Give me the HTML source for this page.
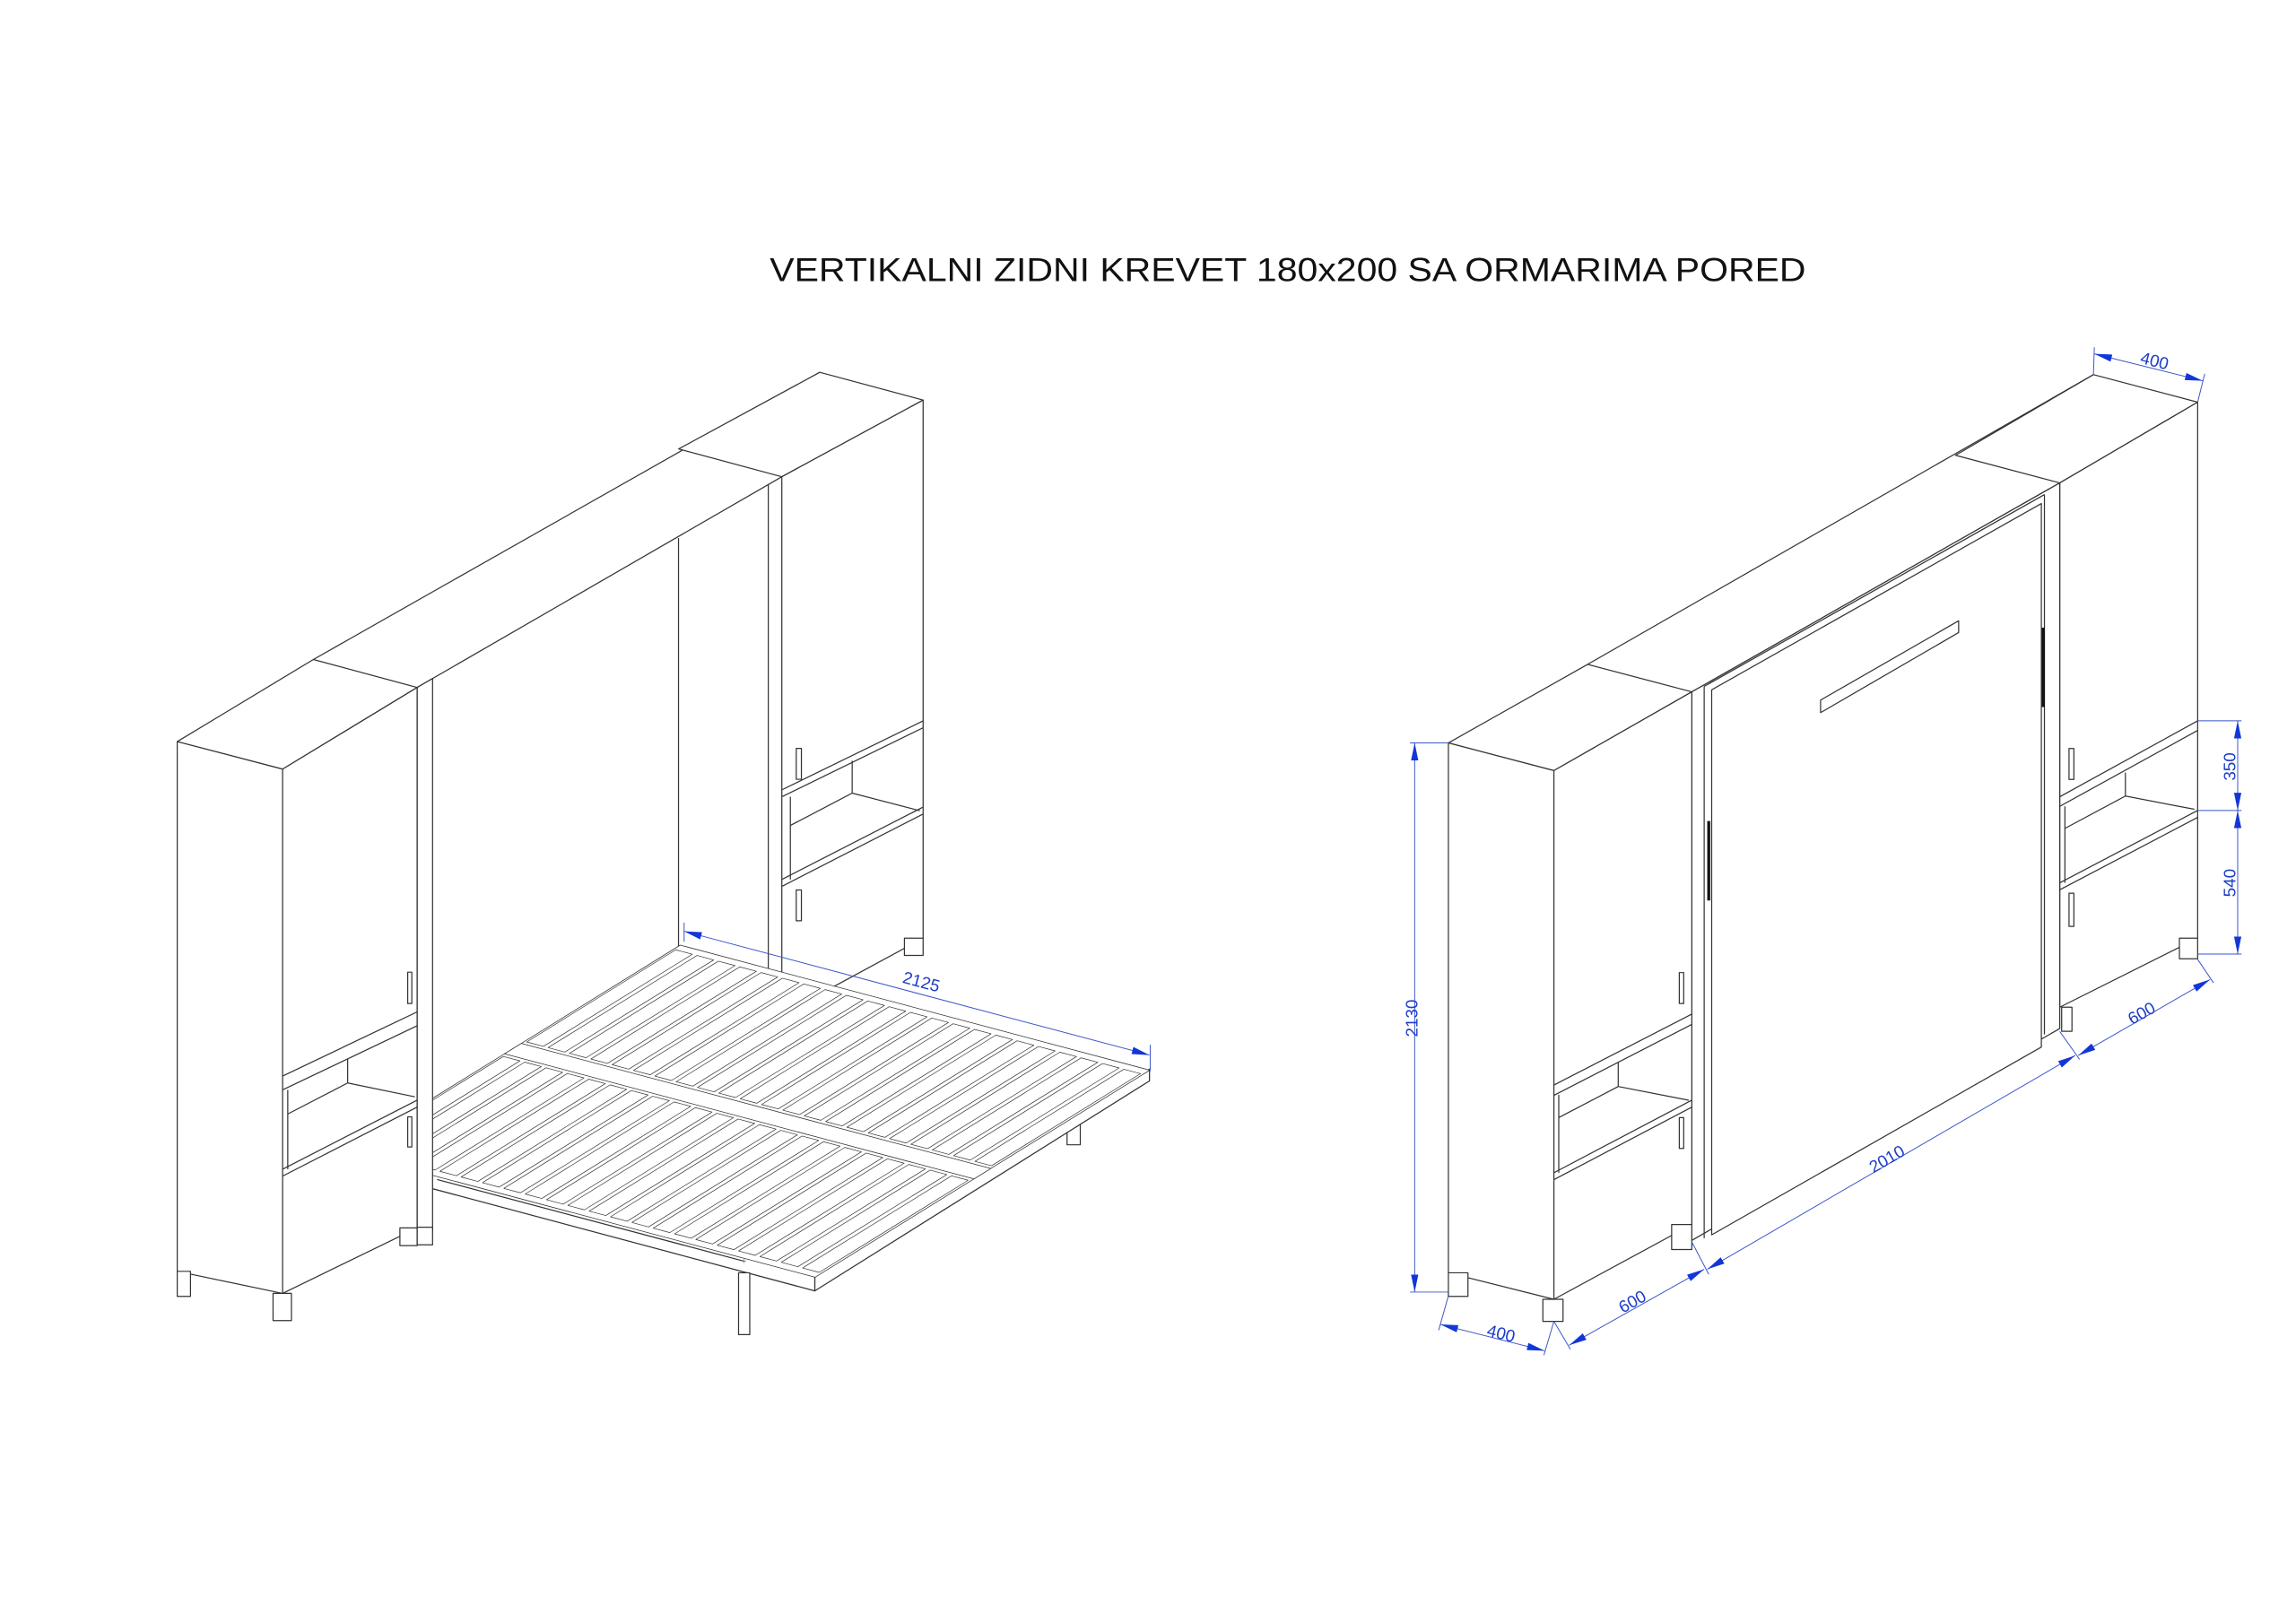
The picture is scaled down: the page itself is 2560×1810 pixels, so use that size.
<!DOCTYPE html>
<html><head><meta charset="utf-8"><style>
html,body{margin:0;padding:0;background:#fff;}
svg{display:block;}
</style></head><body>
<svg width="2560" height="1810" viewBox="0 0 1560 1103" xmlns="http://www.w3.org/2000/svg">
<defs>
<marker id="ar" viewBox="0 0 12 5" refX="12" refY="2.5" markerWidth="12" markerHeight="5" markerUnits="userSpaceOnUse" orient="auto-start-reverse">
<path d="M0,0 L12,2.5 L0,5 z" fill="#1336d8"/>
</marker>
<rect id="sl" x="1" y="2" width="7.8" height="44.5" fill="#fff" stroke="#333" stroke-width="0.7" vector-effect="non-scaling-stroke"/>
<rect id="sl2" x="1" y="53.5" width="7.8" height="44.5" fill="#fff" stroke="#333" stroke-width="0.7" vector-effect="non-scaling-stroke"/>
</defs>
<rect width="1560" height="1103" fill="#fff"/>
<text x="875" y="191" text-anchor="middle" font-family="Liberation Sans, sans-serif" font-size="22.5" fill="#111" textLength="704" lengthAdjust="spacingAndGlyphs">VERTIKALNI ZIDNI KREVET 180x200 SA ORMARIMA PORED</text>

<g fill="#fff" stroke="#333" stroke-width="0.75" stroke-linejoin="round">
<!-- ============ LEFT DRAWING ============ -->
<line x1="212.9" y1="448.2" x2="557" y2="253"/>
<line x1="283.4" y1="467.2" x2="531.2" y2="324"/>
<polygon points="461.1,305.1 557,253 627.2,271.9 531.2,324"/>
<line x1="461" y1="365.6" x2="461" y2="645"/>
<line x1="522" y1="329" x2="522" y2="690"/>
<polygon points="531.2,324 627.2,271.9 627.2,637.6 531.2,689.6"/>
<line x1="531.2" y1="536.8" x2="627.2" y2="489.9"/>
<line x1="531.2" y1="541.5" x2="627.2" y2="494.6"/>
<line x1="537" y1="541.5" x2="537" y2="597.7"/>
<line x1="579" y1="517" x2="579" y2="539"/>
<line x1="537" y1="561" x2="579" y2="539"/>
<line x1="579" y1="539" x2="625" y2="551"/>
<line x1="531.2" y1="597.7" x2="627.2" y2="548.5"/>
<line x1="531.2" y1="602.4" x2="627.2" y2="553.2"/>
<rect x="541" y="508.6" width="3.5" height="21"/>
<rect x="541" y="604.8" width="3.5" height="21"/>
<rect x="614.5" y="637.6" width="12.7" height="11.7"/>
<rect x="725" y="760" width="9" height="18"/>
<polygon points="781,726.6 553.6,867.3 553.6,877.3 781,734.6"/>
<polygon points="234.6,782 553.6,867.3 553.6,877.3 234.6,792"/>
<g transform="matrix(1.45,0.3864,-2.274,1.407,462.2,642.3)">
<rect x="0" y="0" width="220" height="100" fill="#fff" stroke="#333" stroke-width="0.75" vector-effect="non-scaling-stroke"/>
<rect x="0" y="47.5" width="220" height="5" fill="#fff" stroke="#333" stroke-width="0.75" vector-effect="non-scaling-stroke"/>
<use href="#sl" x="0"/><use href="#sl" x="10"/><use href="#sl" x="20"/><use href="#sl" x="30"/><use href="#sl" x="40"/><use href="#sl" x="50"/><use href="#sl" x="60"/><use href="#sl" x="70"/><use href="#sl" x="80"/><use href="#sl" x="90"/><use href="#sl" x="100"/><use href="#sl" x="110"/><use href="#sl" x="120"/><use href="#sl" x="130"/><use href="#sl" x="140"/><use href="#sl" x="150"/><use href="#sl" x="160"/><use href="#sl" x="170"/><use href="#sl" x="180"/><use href="#sl" x="190"/><use href="#sl" x="200"/><use href="#sl" x="210"/>
<use href="#sl2" x="0"/><use href="#sl2" x="10"/><use href="#sl2" x="20"/><use href="#sl2" x="30"/><use href="#sl2" x="40"/><use href="#sl2" x="50"/><use href="#sl2" x="60"/><use href="#sl2" x="70"/><use href="#sl2" x="80"/><use href="#sl2" x="90"/><use href="#sl2" x="100"/><use href="#sl2" x="110"/><use href="#sl2" x="120"/><use href="#sl2" x="130"/><use href="#sl2" x="140"/><use href="#sl2" x="150"/><use href="#sl2" x="160"/><use href="#sl2" x="170"/><use href="#sl2" x="180"/><use href="#sl2" x="190"/><use href="#sl2" x="200"/><use href="#sl2" x="210"/>
</g>
<rect x="501.8" y="865" width="7.6" height="42"/>
<line x1="297" y1="801.6" x2="505" y2="857"/>
<text x="505.6" y="859" font-size="6" fill="#333" stroke="none" text-anchor="middle">+</text>
<polygon points="283.4,467.2 293.9,461.1 293.9,836.8 283.4,842"/>
<rect x="283.4" y="834" width="10.5" height="12"/>
<polygon points="120.4,504 192,522.7 283.4,467.2 212.9,448.2"/>
<polygon points="120.4,504 192,522.7 192,879 120.4,864"/>
<polygon points="192,522.7 283.4,467.2 283.4,834.5 192,879"/>
<rect x="120.4" y="864" width="9" height="17"/>
<rect x="185.5" y="879" width="12.5" height="18.5"/>
<rect x="271.7" y="834.5" width="11.7" height="12"/>
<line x1="192" y1="731.3" x2="283.4" y2="687.7"/>
<line x1="192" y1="740.7" x2="283.4" y2="697.1"/>
<line x1="195.5" y1="740.7" x2="195.5" y2="794.6"/>
<line x1="236.2" y1="719.6" x2="236.2" y2="736"/>
<line x1="195.5" y1="757.1" x2="236.2" y2="736"/>
<line x1="236.2" y1="736" x2="281.9" y2="745.4"/>
<line x1="192" y1="794.6" x2="283.4" y2="747.7"/>
<line x1="192" y1="799.3" x2="283.4" y2="752.4"/>
<rect x="277" y="660.7" width="2.8" height="21.3"/>
<rect x="277" y="759" width="2.8" height="20.5"/>

<!-- ============ RIGHT DRAWING ============ -->
<line x1="1078.7" y1="451.5" x2="1422.4" y2="254.6"/>
<polygon points="1328.7,309.4 1422.4,254.6 1493.2,273.3 1399.5,328.2"/>
<line x1="1149.5" y1="470.2" x2="1399.5" y2="328.2"/>
<polygon points="1399.5,328.2 1493.2,273.3 1493.2,637.6 1399.5,684.5"/>
<line x1="1399.5" y1="541.5" x2="1493.2" y2="489.9"/>
<line x1="1399.5" y1="548" x2="1493.2" y2="496.4"/>
<line x1="1403" y1="548" x2="1403" y2="600"/>
<line x1="1444.1" y1="525" x2="1444.1" y2="541"/>
<line x1="1403" y1="563" x2="1444.1" y2="541"/>
<line x1="1444.1" y1="541" x2="1491" y2="550"/>
<line x1="1399.5" y1="600" x2="1493.2" y2="550.8"/>
<line x1="1399.5" y1="604.7" x2="1493.2" y2="555.5"/>
<rect x="1405.8" y="508.7" width="3.3" height="21"/>
<rect x="1405.8" y="607" width="3.3" height="22.6"/>
<rect x="1480.8" y="637.6" width="12.4" height="14"/>
<rect x="1400.8" y="684.5" width="7" height="16.4"/>
<polygon points="1149.5,470.2 1399.5,328.2 1399.5,699 1149.5,843"/>
<line x1="1157.9" y1="466.5" x2="1157.9" y2="841.5"/>
<line x1="1157.9" y1="466.5" x2="1389.1" y2="336.1"/>
<line x1="1389.1" y1="336.1" x2="1389.1" y2="703"/>
<polygon points="1163,468.8 1387,342.2 1387,711.6 1163,839.2"/>
<polygon points="1237,475.8 1330.8,421.9 1330.8,429.9 1237,484.3"/>
<line x1="1161" y1="558" x2="1161" y2="612" stroke="#111" stroke-width="2"/>
<line x1="1388.3" y1="426.6" x2="1388.3" y2="480.5" stroke="#111" stroke-width="2"/>
<polygon points="984.1,504.9 1055.8,523.7 1149.5,470.2 1078.7,451.5"/>
<polygon points="984.1,504.9 1055.8,523.7 1055.8,883 984.1,865"/>
<polygon points="1055.8,523.7 1149.5,470.2 1149.5,832.2 1055.8,883"/>
<rect x="984.1" y="865" width="13.3" height="16"/>
<rect x="1048.3" y="883" width="13.7" height="15"/>
<rect x="1135.8" y="832.2" width="13.7" height="17"/>
<line x1="1055.8" y1="737.4" x2="1149.5" y2="689.2"/>
<line x1="1055.8" y1="744.4" x2="1149.5" y2="696.2"/>
<line x1="1059.1" y1="744" x2="1059.1" y2="797"/>
<line x1="1099.5" y1="722" x2="1099.5" y2="738.4"/>
<line x1="1059.1" y1="759.5" x2="1099.5" y2="738.4"/>
<line x1="1099.5" y1="738.4" x2="1147.4" y2="747.7"/>
<line x1="1055.8" y1="797" x2="1149.5" y2="747.7"/>
<line x1="1055.8" y1="801.7" x2="1149.5" y2="752.4"/>
<rect x="1141" y="661" width="3" height="21"/>
<rect x="1141" y="759.5" width="3" height="21"/>
</g>

<g stroke="#3a55c8" stroke-width="0.6" fill="none">
<line x1="464.8" y1="627" x2="464.8" y2="640"/>
<line x1="781.5" y1="710" x2="781.5" y2="728"/>
<line x1="464.8" y1="632.9" x2="781" y2="717" marker-start="url(#ar)" marker-end="url(#ar)"/>
<line x1="958" y1="504.9" x2="984" y2="504.9"/>
<line x1="958" y1="878.1" x2="984" y2="878.1"/>
<line x1="961.2" y1="504.9" x2="961.2" y2="878.1" marker-start="url(#ar)" marker-end="url(#ar)"/>
<line x1="984" y1="881" x2="977.5" y2="904"/>
<line x1="1055.8" y1="898" x2="1049" y2="921"/>
<line x1="978.7" y1="900.1" x2="1049.5" y2="918" marker-start="url(#ar)" marker-end="url(#ar)"/>
<line x1="1055.8" y1="898" x2="1067" y2="917"/>
<line x1="1149.5" y1="844" x2="1161" y2="866"/>
<line x1="1066.2" y1="914.2" x2="1157.9" y2="862.6" marker-start="url(#ar)" marker-end="url(#ar)"/>
<line x1="1160" y1="862.6" x2="1410" y2="717.3" marker-start="url(#ar)" marker-end="url(#ar)"/>
<line x1="1399.5" y1="701" x2="1413" y2="720"/>
<line x1="1493.2" y1="652" x2="1504" y2="668"/>
<line x1="1412" y1="717.3" x2="1501.6" y2="665.7" marker-start="url(#ar)" marker-end="url(#ar)"/>
<line x1="1422.4" y1="254.6" x2="1423" y2="236"/>
<line x1="1493.2" y1="273.3" x2="1498" y2="254"/>
<line x1="1423" y1="240.5" x2="1496.6" y2="258.8" marker-start="url(#ar)" marker-end="url(#ar)"/>
<line x1="1493.2" y1="489.9" x2="1523" y2="489.9"/>
<line x1="1493.2" y1="550.8" x2="1523" y2="550.8"/>
<line x1="1493.2" y1="648.4" x2="1523" y2="648.4"/>
<line x1="1520.4" y1="489.9" x2="1520.4" y2="550.8" marker-start="url(#ar)" marker-end="url(#ar)"/>
<line x1="1520.4" y1="550.8" x2="1520.4" y2="648.4" marker-start="url(#ar)" marker-end="url(#ar)"/>
</g>
<g font-family="Liberation Sans, sans-serif" font-size="11.5" fill="#1c3cc8" text-anchor="middle">
<text transform="translate(625,671) rotate(15)">2125</text>
<text transform="translate(963,692) rotate(-90)">2130</text>
<text transform="translate(1019,910) rotate(14)">400</text>
<text transform="translate(1111,888) rotate(-29)">600</text>
<text transform="translate(1284,791) rotate(-30)">2010</text>
<text transform="translate(1457,692) rotate(-29)">600</text>
<text transform="translate(1463,249) rotate(14)">400</text>
<text transform="translate(1519,521) rotate(-90)">350</text>
<text transform="translate(1519,600) rotate(-90)">540</text>
</g>
</svg>
</body></html>
